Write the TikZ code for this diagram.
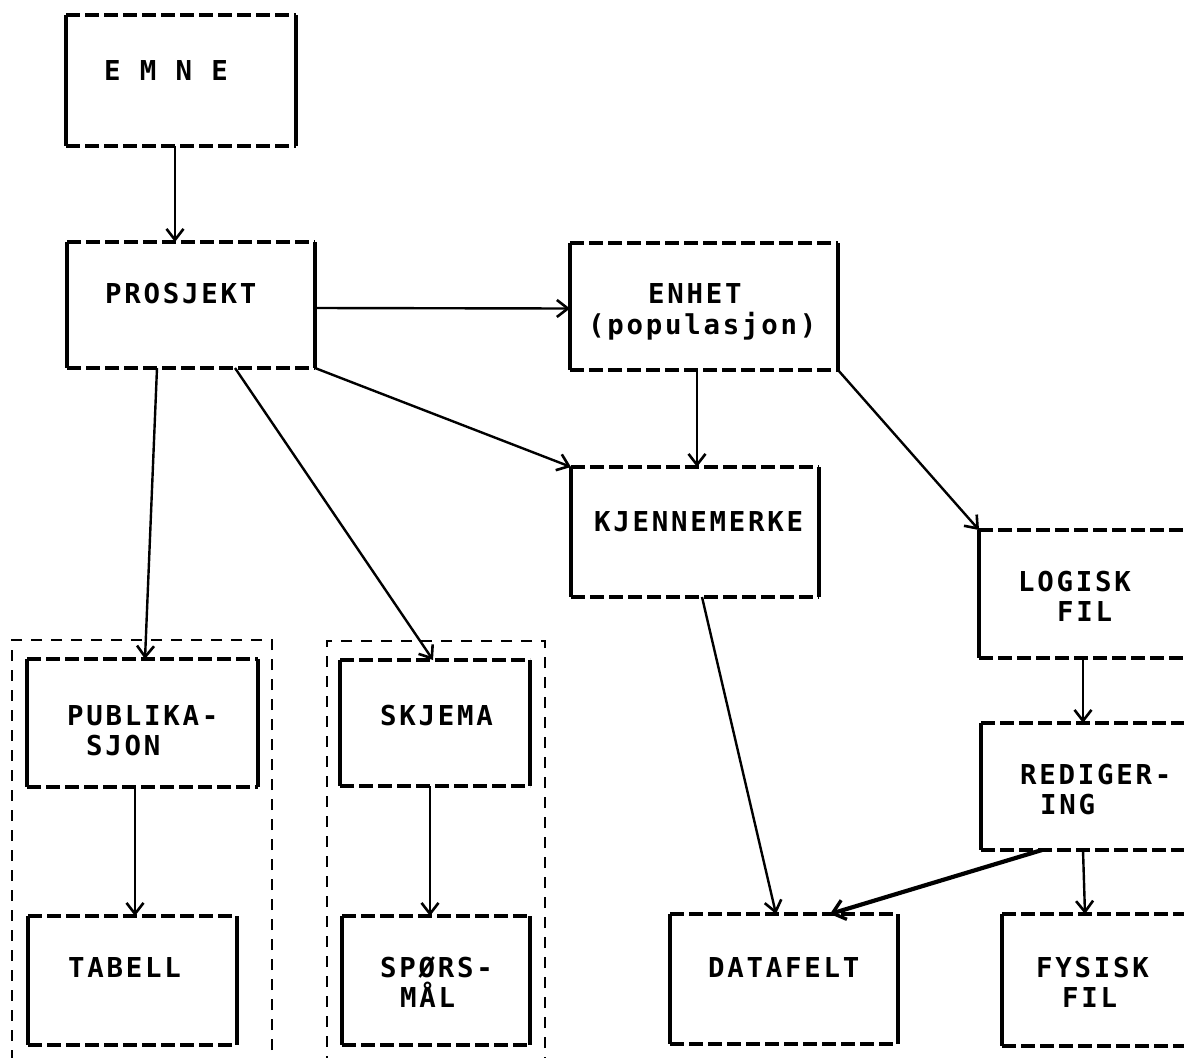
\documentclass[tikz,border=0pt]{standalone}
\usepackage{fontspec}
\newfontfamily\plotfont[LetterSpace=10]{DejaVu Sans Mono Bold}
\usetikzlibrary{arrows.meta,fit}
\begin{document}
\begin{tikzpicture}[x=1pt,y=-1pt,
  box/.style={inner sep=0pt, outer sep=0pt, draw=none},
  hline/.style={line width=3.6pt, dash pattern=on 14pt off 5pt},
  vline/.style={line width=3.2pt},
  grp/.style={draw, line width=2.8pt, dash pattern=on 11pt off 9pt, inner sep=0pt, outer sep=0pt},
  arr/.style={line width=2.4pt, -{Straight Barb[length=11pt,width=17pt,line width=2.6pt]}},
  thickarr/.style={line width=4.2pt, -{Straight Barb[length=12pt,width=20pt,line width=3.4pt]}},
  lbl/.style={inner sep=0pt, anchor=base west, font=\plotfont\fontsize{27.4pt}{30pt}\selectfont}]
\useasboundingbox (0,0) rectangle (1184,1058);
\clip (0,0) rectangle (1184,1058);
\fill[white] (0,0) rectangle (1184,1058);

% group frames
\node[grp, fit={(12,640) (272,1090)}] (grpA) {};
\node[grp, fit={(327,641) (545,1090)}] (grpB) {};

% boxes
\node[box, fit={(66,15) (296,146)}] (emne) {};
\node[box, fit={(67,242) (315,368)}] (prosjekt) {};
\node[box, fit={(570,243) (838,370)}] (enhet) {};
\node[box, fit={(571,467) (819,597)}] (kjenn) {};
\node[box, fit={(979,530) (1260,658)}] (logisk) {};
\node[box, fit={(981,723) (1260,850)}] (redig) {};
\node[box, fit={(1002,914) (1260,1046)}] (fysisk) {};
\node[box, fit={(670,914) (898,1044)}] (datafelt) {};
\node[box, fit={(27,659) (258,787)}] (publ) {};
\node[box, fit={(28,916) (237,1045)}] (tabell) {};
\node[box, fit={(340,660) (530,786)}] (skjema) {};
\node[box, fit={(342,916) (530,1045)}] (spors) {};

\foreach \b in {emne,prosjekt,enhet,kjenn,logisk,redig,fysisk,datafelt,publ,tabell,skjema,spors}{
  \draw[hline] (\b.north west) -- (\b.north east);
  \draw[hline] (\b.south west) -- (\b.south east);
  \draw[vline] (\b.north west) -- (\b.south west);
  \draw[vline] (\b.north east) -- (\b.south east);
}

% labels
\node[lbl] (t-emne) at (104,80) {E M N E};
\node[lbl] (t-prosjekt) at (105,303) {PROSJEKT};
\node[lbl] (t-enhet1) at (648,303) {ENHET};
\node[lbl] (t-enhet2) at (588,334) {(populasjon)};
\node[lbl] (t-kjenn) at (594,531) {KJENNEMERKE};
\node[lbl] (t-logisk1) at (1018,591) {LOGISK};
\node[lbl] (t-logisk2) at (1057,621) {FIL};
\node[lbl] (t-redig1) at (1020,784) {REDIGER-};
\node[lbl] (t-redig2) at (1040,814) {ING};
\node[lbl] (t-fysisk1) at (1036,977) {FYSISK};
\node[lbl] (t-fysisk2) at (1062,1007) {FIL};
\node[lbl] (t-datafelt) at (708,977) {DATAFELT};
\node[lbl] (t-publ1) at (67,725) {PUBLIKA-};
\node[lbl] (t-publ2) at (86,755) {SJON};
\node[lbl] (t-tabell) at (68,977) {TABELL};
\node[lbl] (t-skjema) at (380,725) {SKJEMA};
\node[lbl] (t-spors1) at (380,977) {SPØRS-};
\node[lbl] (t-spors2) at (400,1007) {MÅL};

% connectors
\draw[arr] ([xshift=109pt]emne.south west) -- ([xshift=108pt]prosjekt.north west);
\draw[arr] ([yshift=-3pt]prosjekt.east) -- ([yshift=-2pt]enhet.west);
\draw[arr] (prosjekt.south east) -- (kjenn.north west);
\draw[arr] ([xshift=127pt]enhet.south west) -- ([xshift=126pt]kjenn.north west);
\draw[arr] (enhet.south east) -- (logisk.north west);
\draw[arr] ([xshift=90pt]prosjekt.south west) -- ([xshift=118pt]publ.north west);
\draw[arr] ([xshift=168pt]prosjekt.south west) -- ([xshift=93pt]skjema.north west);
\draw[arr] ([xshift=108pt]publ.south west) -- ([xshift=107pt]tabell.north west);
\draw[arr] ([xshift=90pt]skjema.south west) -- ([xshift=88pt]spors.north west);
\draw[arr] ([xshift=131pt]kjenn.south west) -- ([xshift=106pt]datafelt.north west);
\draw[arr] ([xshift=104pt]logisk.south west) -- ([xshift=102pt]redig.north west);
\draw[thickarr] ([xshift=61pt]redig.south west) -- ([xshift=160pt]datafelt.north west);
\draw[arr] ([xshift=102pt]redig.south west) -- ([xshift=83pt]fysisk.north west);
\end{tikzpicture}
\end{document}
